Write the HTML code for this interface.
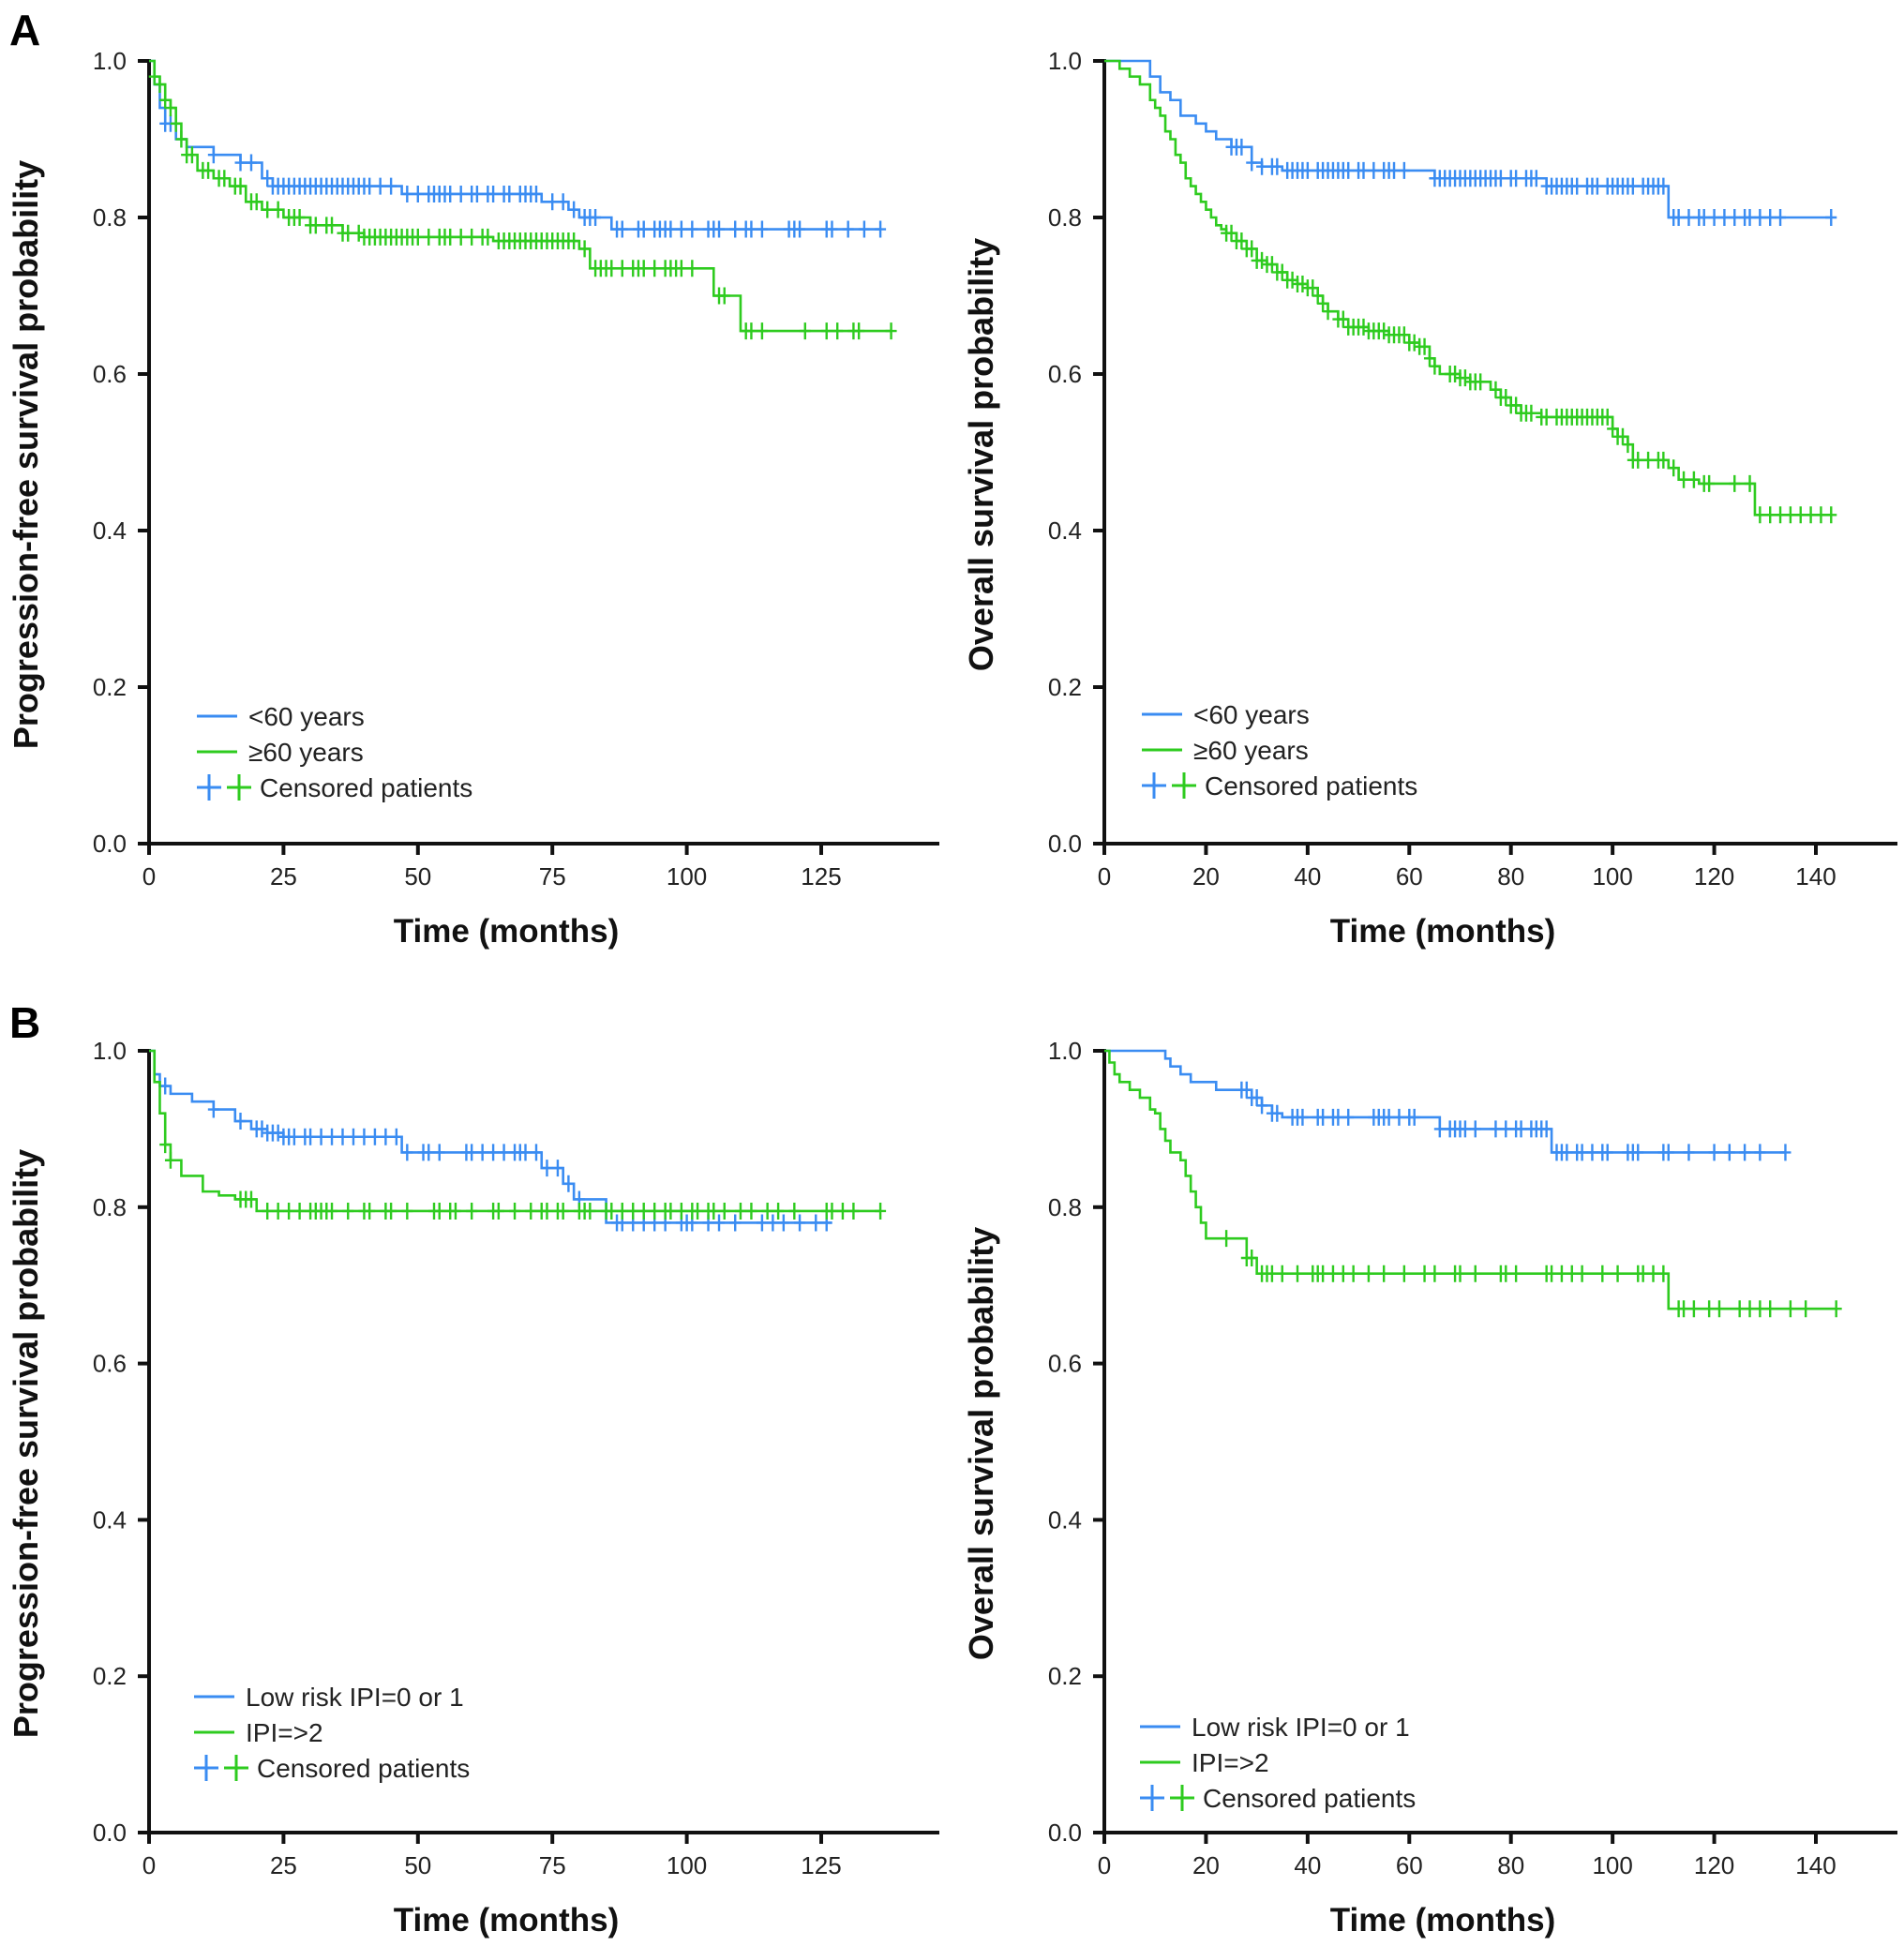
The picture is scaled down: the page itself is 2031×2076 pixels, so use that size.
<!DOCTYPE html>
<html><head><meta charset="utf-8">
<style>
html,body{margin:0;padding:0;background:#fff;}
svg{display:block;font-family:"Liberation Sans",sans-serif;}
</style></head>
<body>
<svg id="fig" width="2031" height="2076" viewBox="0 0 2031 2076" xmlns="http://www.w3.org/2000/svg">
<text x="10" y="48" font-size="46" font-weight="bold">A</text>
<text x="10" y="1107" font-size="46" font-weight="bold">B</text>
</svg>
<script>
// ---- Panel A left: PFS by age ----
const aPfsBlueT = [0,1,2,3,5,7,12,17,21,23,47,73,78,80,86];
const aPfsBlueS = [1.0,0.97,0.94,0.92,0.90,0.89,0.88,0.87,0.85,0.84,0.83,0.82,0.81,0.80,0.785];
const aPfsBlueEnd = 136;
const aPfsBlueCens = [3,4,12,17,19,22,23,24,25,26,27,28,29,30,31,32,33,34,35,36,37,38,39,40,41,43,45,48,50,52,53,54,55,56,58,60,61,63,64,66,67,69,70,71,72,75,77,79,81,82,83,87,88,91,92,94,95,96,97,99,101,104,105,106,109,111,112,114,119,120,121,126,127,130,133,136];
const aPfsGreenT = [0,1,2,3,4,5,6,7,9,12,15,18,21,25,30,36,40,64,80,82,105,110];
const aPfsGreenS = [1.0,0.98,0.97,0.95,0.94,0.92,0.90,0.88,0.86,0.85,0.84,0.82,0.81,0.80,0.79,0.78,0.775,0.77,0.76,0.735,0.70,0.655];
const aPfsGreenEnd = 138;
const aPfsGreenCens = [1,2,3,4,5,6,7,8,10,11,13,14,16,17,19,20,22,24,26,27,28,30,31,33,34,36,37,39,40,41,42,43,44,45,46,47,48,49,50,52,54,55,56,58,60,62,63,65,66,67,68,69,70,71,72,73,74,75,76,77,78,79,81,83,84,85,86,88,90,91,92,94,96,97,98,99,101,106,107,111,112,114,122,126,128,131,132,138];
// ---- Panel A right: OS by age ----
const aOsBlueT = [0,9,11,13,15,18,20,22,25,29,31,35,65,87,111];
const aOsBlueS = [1.0,0.98,0.96,0.95,0.93,0.92,0.91,0.90,0.89,0.87,0.865,0.86,0.85,0.84,0.80];
const aOsBlueEnd = 143;
const aOsBlueCens = [25,26,27,29,31,33,34,36,37,38,39,40,42,43,44,45,46,47,48,50,51,53,55,56,57,59,65,66,67,68,69,70,71,72,73,74,75,76,77,78,80,81,83,84,85,87,88,89,90,91,92,93,95,96,97,99,100,101,102,103,104,106,107,108,109,110,112,113,115,117,118,120,122,124,126,127,129,131,133,143];
const aOsGreenT = [0,3,5,7,9,10,11,12,13,14,15,16,17,18,19,20,21,22,23,24,26,28,30,32,34,36,38,40,42,43,44,46,48,52,56,60,62,64,65,66,70,72,76,78,80,82,86,100,101,103,104,111,113,117,128];
const aOsGreenS = [1.0,0.99,0.98,0.97,0.95,0.94,0.93,0.91,0.90,0.88,0.87,0.85,0.84,0.83,0.82,0.81,0.80,0.79,0.785,0.78,0.77,0.76,0.745,0.74,0.73,0.72,0.715,0.71,0.70,0.69,0.68,0.67,0.66,0.655,0.65,0.64,0.635,0.62,0.61,0.60,0.595,0.59,0.58,0.57,0.56,0.55,0.545,0.53,0.52,0.51,0.49,0.48,0.465,0.46,0.42];
const aOsGreenEnd = 143;
const aOsGreenCens = [24,25,26,27,28,29,30,31,32,33,34,35,36,37,38,39,40,41,42,43,44,46,47,48,49,50,51,52,53,54,55,56,57,58,59,60,61,62,63,64,65,68,69,70,71,72,73,74,77,78,79,80,81,82,83,84,86,87,89,90,91,92,93,94,95,96,97,98,99,100,101,102,103,104,105,107,109,110,112,114,116,118,119,124,127,129,131,133,135,137,139,141,143];
// ---- Panel B left: PFS by IPI ----
const bPfsBlueT = [0,1,2,4,8,12,16,19,22,25,47,73,77,79,85];
const bPfsBlueS = [1.0,0.97,0.955,0.945,0.935,0.925,0.91,0.90,0.895,0.89,0.87,0.85,0.83,0.81,0.78];
const bPfsBlueEnd = 127;
const bPfsBlueCens = [3,12,17,20,21,22,23,24,25,26,27,29,30,32,34,36,38,40,42,44,46,48,51,52,54,59,60,62,64,66,68,69,70,72,74,76,78,80,87,88,90,92,94,96,99,100,101,104,106,109,114,116,118,121,124,126];
const bPfsGreenT = [0,1,2,3,4,6,10,13,16,20];
const bPfsGreenS = [1.0,0.96,0.92,0.88,0.86,0.84,0.82,0.815,0.81,0.795];
const bPfsGreenEnd = 136;
const bPfsGreenCens = [3,4,17,18,19,22,24,26,28,30,31,32,33,34,37,40,41,44,45,48,53,54,56,57,60,64,65,68,71,73,74,76,77,80,81,82,85,86,88,90,92,94,96,97,99,101,102,104,105,107,110,112,115,117,120,126,127,129,131,136];
// ---- Panel B right: OS by IPI ----
const bOsBlueT = [0,12,13,15,17,22,29,31,33,35,66,88];
const bOsBlueS = [1.0,0.99,0.98,0.97,0.96,0.95,0.94,0.93,0.92,0.915,0.90,0.87];
const bOsBlueEnd = 134;
const bOsBlueCens = [27,28,29,30,31,33,34,37,38,39,42,43,45,46,48,53,54,55,56,58,60,61,66,68,69,70,71,73,77,79,81,82,84,85,86,87,89,90,91,93,94,96,98,99,103,104,105,110,111,115,120,123,126,129,134];
const bOsGreenT = [0,1,2,3,5,7,9,10,11,12,13,15,16,17,18,19,20,28,30,111];
const bOsGreenS = [1.0,0.985,0.97,0.96,0.95,0.94,0.925,0.92,0.90,0.885,0.87,0.86,0.84,0.82,0.80,0.78,0.76,0.735,0.715,0.67];
const bOsGreenEnd = 144;
const bOsGreenCens = [24,28,29,31,32,33,35,38,41,42,43,45,47,49,52,55,59,63,65,69,70,73,78,79,81,87,88,90,92,94,98,101,105,106,108,110,113,114,116,119,121,125,127,129,131,135,138,144];

const yTickVals = [0,0.2,0.4,0.6,0.8,1.0];
const xTicksPfs = [0,25,50,75,100,125];
const xTicksOs = [0,20,40,60,80,100,120,140];

const BLUE = '#3a8cf2', GREEN = '#2ecb1f';
const NS = 'http://www.w3.org/2000/svg';
const svg = document.getElementById('fig');
function mk(tag, attrs, parent){
  const e = document.createElementNS(NS, tag);
  for (const k in attrs) e.setAttribute(k, attrs[k]);
  (parent||svg).appendChild(e);
  return e;
}
function stepAt(T,S,t){ let s=S[0]; for(let i=0;i<T.length;i++){ if(T[i]<=t) s=S[i]; } return s; }

function chart(cfg){
  const g = mk('g',{});
  
  
  const xs = t => cfg.x0 + (t/cfg.xmax)*(cfg.xmaxPx - cfg.x0);
  const ys = v => cfg.y0 + (cfg.y1 - cfg.y0)*v;
  const ya = mk('line',{x1:cfg.x0,y1:ys(1)-2,x2:cfg.x0,y2:ys(0)+2,stroke:'#111','stroke-width':4},g);
  
  
  const xa = mk('line',{x1:cfg.x0-2,y1:ys(0),x2:cfg.xEnd,y2:ys(0),stroke:'#111','stroke-width':4},g);
  
  
  yTickVals.forEach(v=>{
    mk('line',{x1:cfg.x0-12,y1:ys(v),x2:cfg.x0,y2:ys(v),stroke:'#111','stroke-width':4},g);
    const t = mk('text',{x:cfg.x0-24,y:ys(v)+9,'font-size':26,'text-anchor':'end',fill:'#222'},g);
    
    
    t.textContent = v.toFixed(1);
  });
  cfg.xticks.forEach(v=>{
    mk('line',{x1:xs(v),y1:ys(0),x2:xs(v),y2:ys(0)+12,stroke:'#111','stroke-width':4},g);
    const t = mk('text',{x:xs(v),y:ys(0)+44,'font-size':26,'text-anchor':'middle',fill:'#222'},g);
    
    
    t.textContent = v;
  });
  const xt = mk('text',{x:cfg.x0+cfg.titleOff,y:ys(0)+105,'font-size':35,'font-weight':'bold','text-anchor':'middle',fill:'#111'},g);
  
  
  xt.textContent = 'Time (months)';
  const yc = cfg.ytitleY;
  const yx = cfg.x0-119;
  const yt = mk('text',{x:yx,y:yc,'font-size':36,'font-weight':'bold','text-anchor':'middle',fill:'#111',transform:`rotate(-90 ${yx} ${yc})`},g);
  
  
  yt.textContent = cfg.ytitle;
  cfg.series.forEach(s=>{
    let d = `M${xs(0)},${ys(s.S[0])}`;
    for(let i=1;i<s.T.length;i++){ d += ` H${xs(s.T[i])} V${ys(s.S[i])}`; }
    d += ` H${xs(s.end)}`;
    const p = mk('path',{d:d,fill:'none',stroke:s.color,'stroke-width':2.6},g);
    
    
    s.cens.forEach(t=>{
      const cx = xs(t), cy = ys(stepAt(s.T,s.S,t));
      const c = mk('path',{d:`M${cx},${cy-9} V${cy+9} M${cx-6},${cy} H${cx+6}`,stroke:s.color,'stroke-width':2.4,fill:'none'},g);
      
      
    });
  });
  const lg = mk('g',{},g);
  
  
  const lx = cfg.legX, ly = cfg.legY;
  cfg.legLabels.forEach((lab,i)=>{
    const y = ly + i*38;
    const col = i===0?BLUE:GREEN;
    const ln = mk('line',{x1:lx,y1:y,x2:lx+43,y2:y,stroke:col,'stroke-width':3},lg);
    
    
    const tx = mk('text',{x:lx+55,y:y+10,'font-size':28,fill:'#222'},lg);
    
    
    tx.textContent = lab;
  });
  const cy = ly + 76;
  [[lx+13,BLUE],[lx+45,GREEN]].forEach(([cx,col])=>{
    const c = mk('path',{d:`M${cx},${cy-14} V${cy+14} M${cx-13},${cy} H${cx+13}`,stroke:col,'stroke-width':3,fill:'none'},lg);
    
    
  });
  const ct = mk('text',{x:lx+67,y:cy+10,'font-size':28,fill:'#222'},lg);
  
  
  ct.textContent = 'Censored patients';
}

chart({name:'pfs-age-chart',x0:159,xmax:125,xmaxPx:876,xEnd:1002,y1:65,y0:900,xticks:xTicksPfs,titleOff:381,ytitleY:485,
  ytitle:'Progression-free survival probability',legX:210,legY:764,legLabels:['<60 years','≥60 years'],
  series:[{name:'under-60',color:BLUE,T:aPfsBlueT,S:aPfsBlueS,end:aPfsBlueEnd,cens:aPfsBlueCens},
          {name:'over-60',color:GREEN,T:aPfsGreenT,S:aPfsGreenS,end:aPfsGreenEnd,cens:aPfsGreenCens}]});
chart({name:'os-age-chart',x0:1178,xmax:140,xmaxPx:1937,xEnd:2024,y1:65,y0:900,xticks:xTicksOs,titleOff:361,ytitleY:485,
  ytitle:'Overall survival probability',legX:1218,legY:762,legLabels:['<60 years','≥60 years'],
  series:[{name:'under-60',color:BLUE,T:aOsBlueT,S:aOsBlueS,end:aOsBlueEnd,cens:aOsBlueCens},
          {name:'over-60',color:GREEN,T:aOsGreenT,S:aOsGreenS,end:aOsGreenEnd,cens:aOsGreenCens}]});
chart({name:'pfs-ipi-chart',x0:159,xmax:125,xmaxPx:876,xEnd:1002,y1:1121,y0:1955,xticks:xTicksPfs,titleOff:381,ytitleY:1540,
  ytitle:'Progression-free survival probability',legX:207,legY:1810,legLabels:['Low risk IPI=0 or 1','IPI=>2'],
  series:[{name:'low-ipi',color:BLUE,T:bPfsBlueT,S:bPfsBlueS,end:bPfsBlueEnd,cens:bPfsBlueCens},
          {name:'high-ipi',color:GREEN,T:bPfsGreenT,S:bPfsGreenS,end:bPfsGreenEnd,cens:bPfsGreenCens}]});
chart({name:'os-ipi-chart',x0:1178,xmax:140,xmaxPx:1937,xEnd:2024,y1:1121,y0:1955,xticks:xTicksOs,titleOff:361,ytitleY:1540,
  ytitle:'Overall survival probability',legX:1216,legY:1842,legLabels:['Low risk IPI=0 or 1','IPI=>2'],
  series:[{name:'low-ipi',color:BLUE,T:bOsBlueT,S:bOsBlueS,end:bOsBlueEnd,cens:bOsBlueCens},
          {name:'high-ipi',color:GREEN,T:bOsGreenT,S:bOsGreenS,end:bOsGreenEnd,cens:bOsGreenCens}]});
</script>
</body></html>
